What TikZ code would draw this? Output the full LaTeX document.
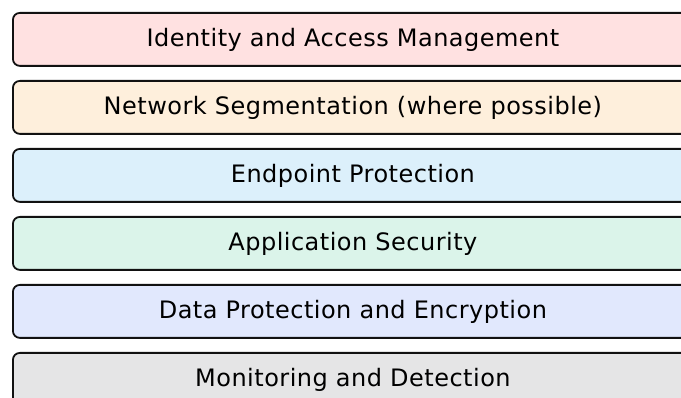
\documentclass[tikz,border=0pt]{standalone}
\usepackage{fontspec}
\setmainfont[LetterSpace=2]{DejaVu Sans}
\definecolor{cpink}{HTML}{FFE1E1}
\definecolor{corange}{HTML}{FEEFDC}
\definecolor{cblue}{HTML}{DCF0FB}
\definecolor{cgreen}{HTML}{DBF4EA}
\definecolor{clav}{HTML}{E1E8FD}
\definecolor{cgray}{HTML}{E5E5E6}
\definecolor{cline}{HTML}{111111}
\begin{document}
\begin{tikzpicture}[x=1pt,y=-1pt,
  layer/.style={draw=cline, line width=1.8pt, rounded corners=7pt,
    minimum width=680pt, minimum height=53pt, inner sep=0pt,
    anchor=north west, font=\fontsize{24}{28}\selectfont, text=black}]
\useasboundingbox (0,0) rectangle (681,398);
\clip (0,0) rectangle (681,398);
\node[layer, fill=cpink]   (iam)  at (12,12)  {Identity and Access Management};
\node[layer, fill=corange] (net)  at (12,80)  {Network Segmentation (where possible)};
\node[layer, fill=cblue]   (endp) at (12,148) {Endpoint Protection};
\node[layer, fill=cgreen]  (app)  at (12,216) {Application Security};
\node[layer, fill=clav]    (data) at (12,284) {Data Protection and Encryption};
\node[layer, fill=cgray]   (mon)  at (12,352) {Monitoring and Detection};
\end{tikzpicture}
\end{document}
